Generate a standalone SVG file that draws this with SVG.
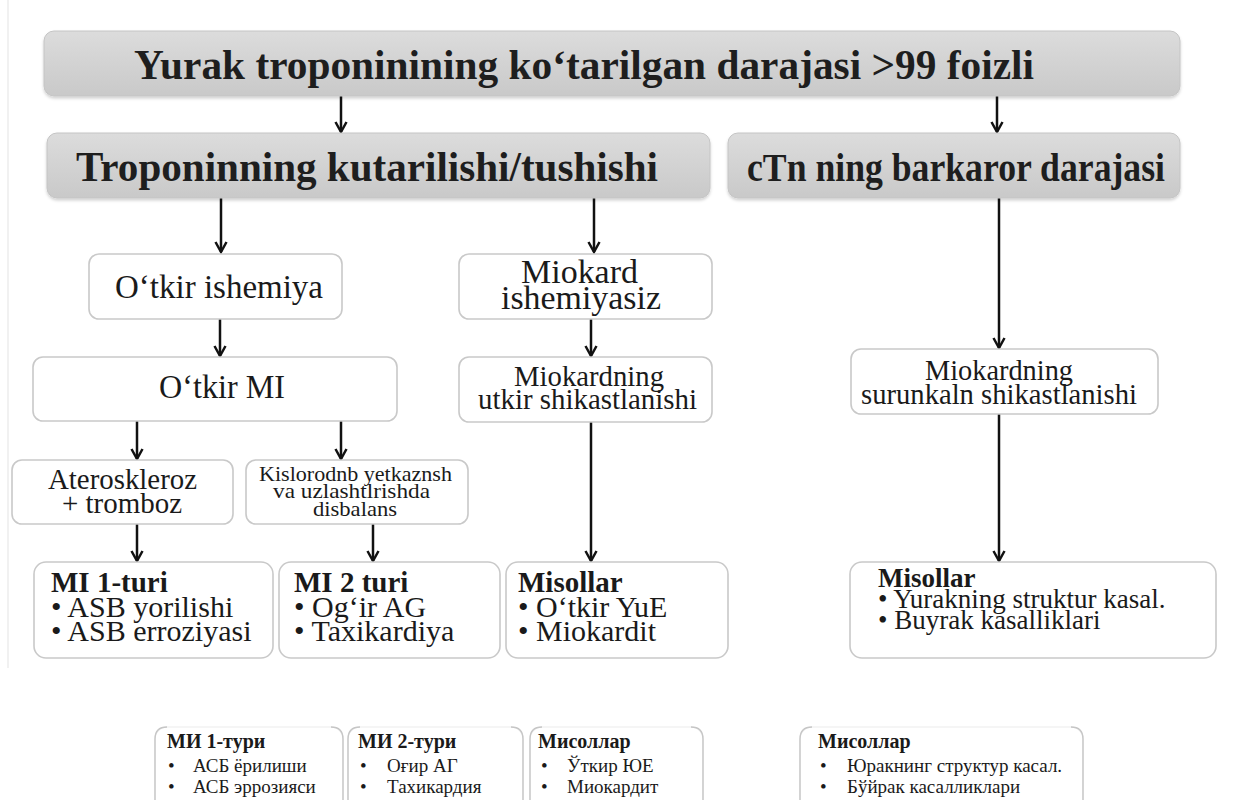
<svg xmlns="http://www.w3.org/2000/svg" width="1237" height="800" viewBox="0 0 1237 800" font-family="'Liberation Serif','Times New Roman',serif">
<defs>
<linearGradient id="hdr" x1="0" y1="0" x2="0" y2="1">
<stop offset="0" stop-color="#dcdcdc"/>
<stop offset="1" stop-color="#c9c9c9"/>
</linearGradient>
<filter id="sh" x="-5%" y="-20%" width="110%" height="150%">
<feDropShadow dx="0" dy="2" stdDeviation="1.5" flood-color="#000" flood-opacity="0.18"/>
</filter>
<marker id="ah" markerUnits="userSpaceOnUse" markerWidth="14" markerHeight="14" refX="11" refY="7" orient="auto">
<path d="M1,1.5 L11,7 L1,12.5" fill="none" stroke="#111" stroke-width="2.5"/>
</marker>
<style>
.hbox{fill:url(#hdr);stroke:#c4c4c4;stroke-width:1;filter:url(#sh)}
.wbox{fill:#fff;stroke:#c9c9c9;stroke-width:1.6}
.cbox{fill:#fff;stroke:#ececec;stroke-width:1.2}
.cside{fill:none;stroke:#c6c6c6;stroke-width:1.4}
.head{font-family:"Liberation Serif","Times New Roman",serif;font-weight:bold;fill:#1e1e1e}
.lbl{font-family:"Liberation Serif","Times New Roman",serif;fill:#1a1a1a}
.bld{font-weight:bold}
.cyr{font-family:"Liberation Serif","Times New Roman",serif;fill:#1a1a1a;font-size:19px}
.cyt{font-family:"Liberation Serif","Times New Roman",serif;fill:#1a1a1a;font-size:20px;font-weight:bold}
.arr{stroke:#111;stroke-width:2.5;fill:none;marker-end:url(#ah)}
</style>
</defs>
<rect width="1237" height="800" fill="#fff"/>
<line x1="8" y1="0" x2="8" y2="668" stroke="#ececec" stroke-width="1.5"/>

<g id="connectors">
<line class="arr" x1="341" y1="96" x2="341" y2="132"/>
<line class="arr" x1="997" y1="96" x2="997" y2="132"/>
<line class="arr" x1="221" y1="198" x2="221" y2="252"/>
<line class="arr" x1="594" y1="198" x2="594" y2="252"/>
<line class="arr" x1="999" y1="198" x2="999" y2="348"/>
<line class="arr" x1="220" y1="319" x2="220" y2="356"/>
<line class="arr" x1="591" y1="319" x2="591" y2="356"/>
<line class="arr" x1="137" y1="421" x2="137" y2="459"/>
<line class="arr" x1="341" y1="421" x2="341" y2="459"/>
<line class="arr" x1="137" y1="524" x2="137" y2="561"/>
<line class="arr" x1="373" y1="524" x2="373" y2="561"/>
<line class="arr" x1="591" y1="422" x2="591" y2="561"/>
<line class="arr" x1="999" y1="414" x2="999" y2="561"/>
</g>

<g id="n-top">
<rect class="hbox" x="44" y="31" width="1136" height="65" rx="10"/>
<text class="head" x="134" y="79" font-size="42" textLength="900" lengthAdjust="spacingAndGlyphs">Yurak troponinining ko‘tarilgan darajasi &gt;99 foizli</text>
</g>
<g id="n-rise">
<rect class="hbox" x="47" y="133" width="663" height="65" rx="10"/>
<text class="head" x="76" y="181" font-size="43" textLength="582" lengthAdjust="spacingAndGlyphs">Troponinning kutarilishi/tushishi</text>
</g>
<g id="n-stable">
<rect class="hbox" x="728" y="133" width="452" height="65" rx="10"/>
<text class="head" x="747" y="181" font-size="39" textLength="418" lengthAdjust="spacingAndGlyphs">cTn ning barkaror darajasi</text>
</g>

<g id="n-ishemiya">
<rect class="wbox" x="89" y="254" width="253" height="65" rx="10"/>
<text class="lbl" x="115" y="298" font-size="34" textLength="208" lengthAdjust="spacingAndGlyphs">O‘tkir ishemiya</text>
</g>
<g id="n-noisch">
<rect class="wbox" x="459" y="254" width="253" height="65" rx="10"/>
<text class="lbl" x="521" y="283" font-size="33" textLength="117" lengthAdjust="spacingAndGlyphs">Miokard</text>
<text class="lbl" x="501" y="309" font-size="33" textLength="160" lengthAdjust="spacingAndGlyphs">ishemiyasiz</text>
</g>
<g id="n-mi">
<rect class="wbox" x="33" y="357" width="364" height="64" rx="10"/>
<text class="lbl" x="159" y="398" font-size="33" textLength="126" lengthAdjust="spacingAndGlyphs">O‘tkir MI</text>
</g>
<g id="n-acute">
<rect class="wbox" x="459" y="357" width="253" height="65" rx="10"/>
<text class="lbl" x="514" y="386" font-size="29" textLength="150" lengthAdjust="spacingAndGlyphs">Miokardning</text>
<text class="lbl" x="478" y="409" font-size="29" textLength="219" lengthAdjust="spacingAndGlyphs">utkir shikastlanishi</text>
</g>
<g id="n-chronic">
<rect class="wbox" x="851" y="349" width="307" height="65" rx="10"/>
<text class="lbl" x="925" y="380" font-size="29" textLength="148" lengthAdjust="spacingAndGlyphs">Miokardning</text>
<text class="lbl" x="861" y="404" font-size="29" textLength="276" lengthAdjust="spacingAndGlyphs">surunkaln shikastlanishi</text>
</g>
<g id="n-athero">
<rect class="wbox" x="12" y="460" width="221" height="64" rx="10"/>
<text class="lbl" x="48" y="489" font-size="29" textLength="149" lengthAdjust="spacingAndGlyphs">Ateroskleroz</text>
<text class="lbl" x="62" y="513" font-size="29" textLength="120" lengthAdjust="spacingAndGlyphs">+ tromboz</text>
</g>
<g id="n-oxygen">
<rect class="wbox" x="246" y="460" width="222" height="64" rx="10"/>
<text class="lbl" x="259" y="481" font-size="21" textLength="193" lengthAdjust="spacingAndGlyphs">Kislorodnb yetkaznsh</text>
<text class="lbl" x="273" y="498" font-size="21" textLength="157" lengthAdjust="spacingAndGlyphs">va uzlashtlrishda</text>
<text class="lbl" x="313" y="516" font-size="21" textLength="84" lengthAdjust="spacingAndGlyphs">disbalans</text>
</g>

<g id="n-mi1">
<rect class="wbox" x="34" y="562" width="239" height="96" rx="12"/>
<text class="lbl bld" x="51" y="592" font-size="29">MI 1-turi</text>
<text class="lbl" x="51" y="617" font-size="30">• ASB yorilishi</text>
<text class="lbl" x="51" y="641" font-size="30">• ASB erroziyasi</text>
</g>
<g id="n-mi2">
<rect class="wbox" x="279" y="562" width="221" height="96" rx="12"/>
<text class="lbl bld" x="294" y="592" font-size="29">MI 2 turi</text>
<text class="lbl" x="294" y="617" font-size="30">• Og‘ir AG</text>
<text class="lbl" x="294" y="641" font-size="30">• Taxikardiya</text>
</g>
<g id="n-ex1">
<rect class="wbox" x="506" y="562" width="222" height="96" rx="12"/>
<text class="lbl bld" x="518" y="592" font-size="29">Misollar</text>
<text class="lbl" x="518" y="617" font-size="30">• O‘tkir YuE</text>
<text class="lbl" x="518" y="641" font-size="30">• Miokardit</text>
</g>
<g id="n-ex2">
<rect class="wbox" x="850" y="562" width="366" height="96" rx="12"/>
<text class="lbl bld" x="878" y="587" font-size="27">Misollar</text>
<text class="lbl" x="878" y="608" font-size="27">• Yurakning struktur kasal.</text>
<text class="lbl" x="878" y="629" font-size="27">• Buyrak kasalliklari</text>
</g>

<g id="c-mi1">
<rect class="cbox" x="155" y="727" width="188" height="100" rx="12"/>
<path class="cside" d="M167,727 Q155,727 155,739 L155,800 M331,727 Q343,727 343,739 L343,800"/>
<text class="cyt" x="167" y="748">МИ 1-тури</text>
<text class="cyr" x="168" y="772">•</text><text class="cyr" x="193" y="772">АСБ ёрилиши</text>
<text class="cyr" x="168" y="793">•</text><text class="cyr" x="193" y="793">АСБ эррозияси</text>
</g>
<g id="c-mi2">
<rect class="cbox" x="348" y="727" width="175" height="100" rx="12"/>
<path class="cside" d="M360,727 Q348,727 348,739 L348,800 M511,727 Q523,727 523,739 L523,800"/>
<text class="cyt" x="358" y="748">МИ 2-тури</text>
<text class="cyr" x="360" y="772">•</text><text class="cyr" x="387" y="772">Оғир АГ</text>
<text class="cyr" x="360" y="793">•</text><text class="cyr" x="387" y="793">Тахикардия</text>
</g>
<g id="c-ex1">
<rect class="cbox" x="530" y="727" width="173" height="100" rx="12"/>
<path class="cside" d="M542,727 Q530,727 530,739 L530,800 M691,727 Q703,727 703,739 L703,800"/>
<text class="cyt" x="538" y="748">Мисоллар</text>
<text class="cyr" x="541" y="772">•</text><text class="cyr" x="567" y="772">Ўткир ЮЕ</text>
<text class="cyr" x="541" y="793">•</text><text class="cyr" x="567" y="793">Миокардит</text>
</g>
<g id="c-ex2">
<rect class="cbox" x="800" y="727" width="283" height="100" rx="12"/>
<path class="cside" d="M812,727 Q800,727 800,739 L800,800 M1071,727 Q1083,727 1083,739 L1083,800"/>
<text class="cyt" x="818" y="748">Мисоллар</text>
<text class="cyr" x="820" y="772">•</text><text class="cyr" x="847" y="772">Юракнинг структур касал.</text>
<text class="cyr" x="820" y="793">•</text><text class="cyr" x="847" y="793">Бўйрак касалликлари</text>
</g>
</svg>
